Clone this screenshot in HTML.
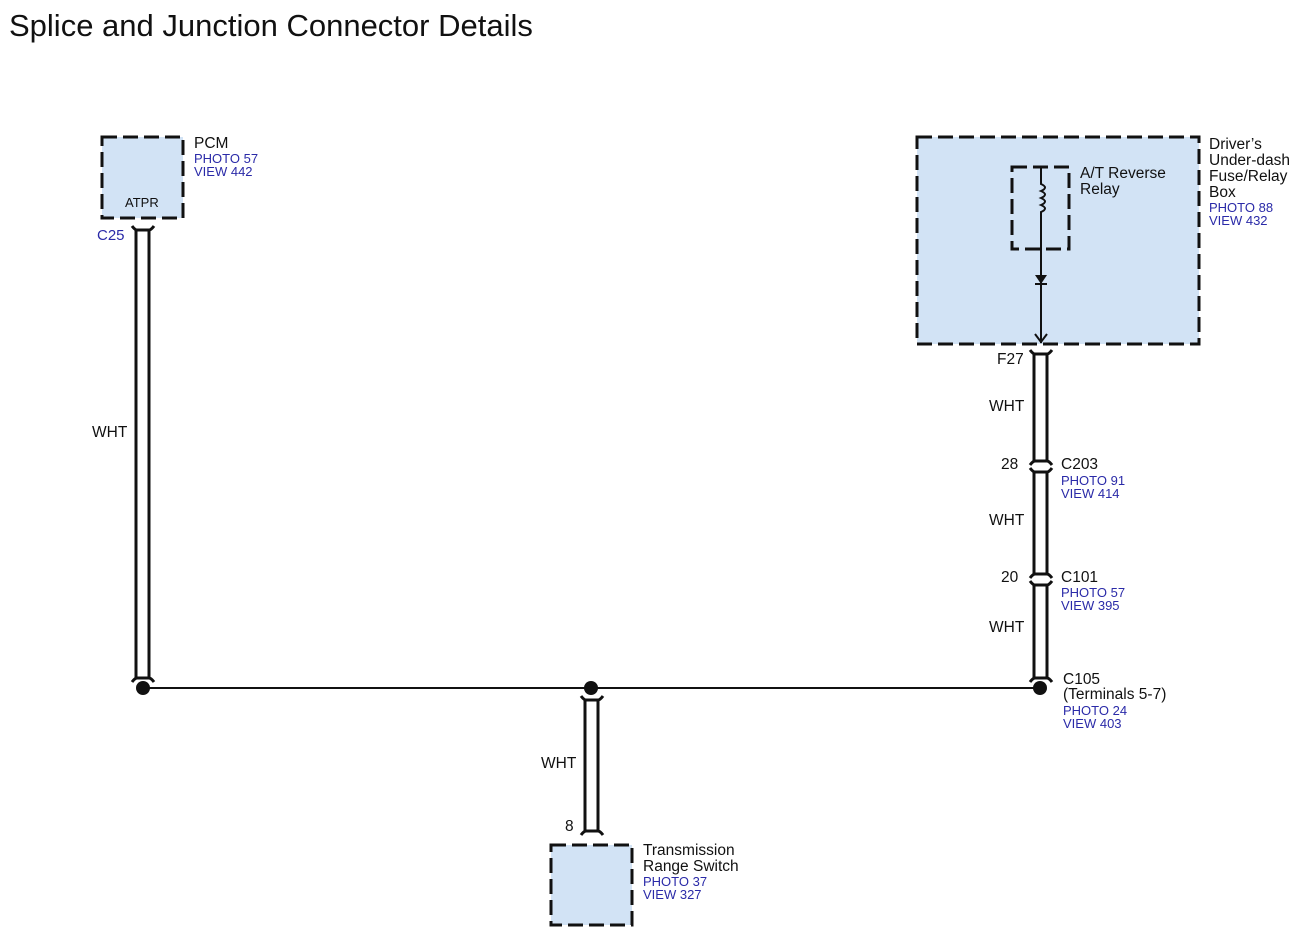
<!DOCTYPE html>
<html><head><meta charset="utf-8"><style>
body{margin:0;background:#fff;width:1302px;height:942px;overflow:hidden}
svg{display:block}
text{font-family:"Liberation Sans",Arial,sans-serif}
.b{fill:#111;font-size:15.5px}
.l{fill:#2a2aa8;font-size:13px}
</style></head><body>
<svg width="1302" height="942" viewBox="0 0 1302 942">
<text x="9" y="36" style="font-size:31px" fill="#111">Splice and Junction Connector Details</text>
<g fill="#d2e3f5" stroke="#111" stroke-width="3" stroke-dasharray="15,6">
<rect x="102" y="137" width="81" height="81"/>
<rect x="917" y="137" width="282" height="207"/>
<rect x="551" y="845" width="81" height="80"/>
<rect x="1012" y="167" width="57" height="82" fill="none"/>
</g>
<text x="125" y="207" class="b" style="font-size:13px">ATPR</text>
<g stroke="#111" stroke-width="2" fill="none">
<path d="M1041,167 V184 q8,3.5 0,7 q8,3.5 0,7 q8,3.5 0,7 q8,3.5 0,7 V343"/>
<path d="M1035,334 L1041,342 L1047,334"/>
<path d="M1035,284 H1047"/>
</g>
<path d="M1035,275 H1047 L1041,284 Z" fill="#111"/>
<g stroke="#111" stroke-width="3" fill="none">
<path d="M136,230 V678 M149,230 V678"/>
<path d="M132,226 q3,4 5,4 H149 q2,0 5,-4"/>
<path d="M132,682 q3,-4 5,-4 H149 q2,0 5,4"/>
<path d="M1034,354 V461 M1047,354 V461"/>
<path d="M1030,350 q3,4 5,4 H1047 q2,0 5,-4"/>
<path d="M1030,465 q3,-4 5,-4 H1047 q2,0 5,4"/>
<path d="M1034,472 V574 M1047,472 V574"/>
<path d="M1030,468 q3,4 5,4 H1047 q2,0 5,-4"/>
<path d="M1030,578 q3,-4 5,-4 H1047 q2,0 5,4"/>
<path d="M1034,585 V678 M1047,585 V678"/>
<path d="M1030,581 q3,4 5,4 H1047 q2,0 5,-4"/>
<path d="M1030,682 q3,-4 5,-4 H1047 q2,0 5,4"/>
<path d="M585,700 V831 M598,700 V831"/>
<path d="M581,696 q3,4 5,4 H598 q2,0 5,-4"/>
<path d="M581,835 q3,-4 5,-4 H598 q2,0 5,4"/>
</g>
<path d="M143,688 H1040" stroke="#111" stroke-width="2"/>
<circle cx="143" cy="688" r="7" fill="#111"/>
<circle cx="591" cy="688" r="7" fill="#111"/>
<circle cx="1040" cy="688" r="7" fill="#111"/>
<text x="194" y="148" class="b">PCM</text>
<text x="194" y="163" class="l">PHOTO 57</text>
<text x="194" y="176" class="l">VIEW 442</text>
<text x="97" y="240" class="l" style="font-size:15px">C25</text>
<text x="92" y="437" class="b">WHT</text>
<text x="1080" y="178" class="b">A/T Reverse</text>
<text x="1080" y="194" class="b">Relay</text>
<text x="1209" y="149" class="b">Driver’s</text>
<text x="1209" y="165" class="b">Under-dash</text>
<text x="1209" y="181" class="b">Fuse/Relay</text>
<text x="1209" y="197" class="b">Box</text>
<text x="1209" y="212" class="l">PHOTO 88</text>
<text x="1209" y="225" class="l">VIEW 432</text>
<text x="997" y="364" class="b">F27</text>
<text x="989" y="411" class="b">WHT</text>
<text x="1001" y="469" class="b">28</text>
<text x="1061" y="469" class="b">C203</text>
<text x="1061" y="485" class="l">PHOTO 91</text>
<text x="1061" y="498" class="l">VIEW 414</text>
<text x="989" y="525" class="b">WHT</text>
<text x="1001" y="582" class="b">20</text>
<text x="1061" y="582" class="b">C101</text>
<text x="1061" y="597" class="l">PHOTO 57</text>
<text x="1061" y="610" class="l">VIEW 395</text>
<text x="989" y="632" class="b">WHT</text>
<text x="1063" y="684" class="b">C105</text>
<text x="1063" y="699" class="b">(Terminals 5-7)</text>
<text x="1063" y="715" class="l">PHOTO 24</text>
<text x="1063" y="728" class="l">VIEW 403</text>
<text x="541" y="768" class="b">WHT</text>
<text x="565" y="831" class="b">8</text>
<text x="643" y="855" class="b">Transmission</text>
<text x="643" y="871" class="b">Range Switch</text>
<text x="643" y="886" class="l">PHOTO 37</text>
<text x="643" y="899" class="l">VIEW 327</text>
</svg>
</body></html>
